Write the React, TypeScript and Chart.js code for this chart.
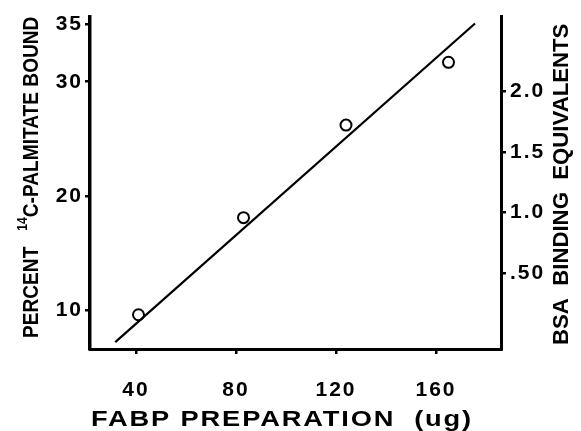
import React, { useEffect, useRef } from "react";
import { Chart, registerables } from "chart.js";

Chart.register(...registerables);

// ---- data ----
const pointX = [41, 83, 124, 165];
const pointY = [9.6, 18.1, 26.2, 31.7];
const fitX = [31.7, 175.6];
const fitY = [7.2, 35.1];
const xTicks = [40, 80, 120, 160];
const yTicks = [10, 20, 30, 35];
const y2Ticks = [0.5, 1.0, 1.5, 2.0];
const y2Labels = [".50", "1.0", "1.5", "2.0"];
const xTitle = "FABP PREPARATION  (ug)";
const yTitlePre = "PERCENT   ";
const yTitleSup = "14";
const yTitlePost = "C-PALMITATE BOUND";
const y2Title = "BSA  BINDING  EQUIVALENTS";

const FONT = "'Liberation Sans', Arial, Helvetica, sans-serif";

const titlePlugin = {
  id: "titles",
  beforeDraw(chart: any) {
    chart.ctx.letterSpacing = "2px";
  },
  afterDraw(chart: any) {
    const ctx = chart.ctx as CanvasRenderingContext2D;
    const area = chart.chartArea;
    ctx.save();
    ctx.fillStyle = "#000";
    ctx.textBaseline = "middle";
    ctx.textAlign = "left";
    const big = `bold 22px ${FONT}`;
    const small = `bold 14px ${FONT}`;

    // x title
    (ctx as any).letterSpacing = "1.5px";
    ctx.font = big;
    const wx = ctx.measureText(xTitle).width;
    ctx.save();
    ctx.translate(area.left + 1, 420);
    ctx.scale(382 / wx, 1);
    ctx.fillText(xTitle, 0, 0);
    ctx.restore();

    // left title (rotated)
    (ctx as any).letterSpacing = "0px";
    ctx.font = big;
    const w1 = ctx.measureText(yTitlePre).width;
    const w3 = ctx.measureText(yTitlePost).width;
    ctx.font = small;
    const w2 = ctx.measureText(yTitleSup).width;
    const s = (area.bottom - 11 - area.top) / (w1 + w2 + w3);
    ctx.save();
    ctx.translate(32, area.bottom - 11);
    ctx.rotate(-Math.PI / 2);
    ctx.scale(s, 1);
    ctx.font = big;
    ctx.fillText(yTitlePre, 0, 0);
    ctx.font = small;
    ctx.fillText(yTitleSup, w1, -9);
    ctx.font = big;
    ctx.fillText(yTitlePost, w1 + w2, 0);
    ctx.restore();

    // right title (rotated, reads bottom to top)
    ctx.font = big;
    const wr = ctx.measureText(y2Title).width;
    ctx.save();
    ctx.translate(562, area.bottom - 4);
    ctx.rotate(-Math.PI / 2);
    ctx.scale((area.bottom - 4 - (area.top + 7)) / wr, 1);
    ctx.fillText(y2Title, 0, 0);
    ctx.restore();

    ctx.restore();
  },
};

export default function App() {
  const ref = useRef<HTMLCanvasElement | null>(null);

  useEffect(() => {
    if (!ref.current) return;
    const axisGrid = {
      display: true,
      drawOnChartArea: false,
      drawTicks: true,
      tickLength: 5,
      color: "#000",
      lineWidth: 2.5,
    };
    const axisBorder = { display: true, color: "#000", width: 3 };
    const tickFont = { family: FONT, size: 21, weight: "bold" };

    const chart = new Chart(ref.current, {
      type: "scatter",
      data: {
        datasets: [
          {
            type: "line",
            data: fitX.map((x, i) => ({ x, y: fitY[i] })),
            borderColor: "#000",
            borderWidth: 2.2,
            pointRadius: 0,
            fill: false,
            yAxisID: "y",
          } as any,
          {
            type: "scatter",
            data: pointX.map((x, i) => ({ x, y: pointY[i] })),
            pointRadius: 5.5,
            pointBorderWidth: 2,
            pointBackgroundColor: "#fff",
            pointBorderColor: "#000",
            yAxisID: "y",
          },
        ],
      },
      options: {
        responsive: false,
        animation: false,
        layout: { padding: { top: 15, left: 0, right: 0, bottom: 0 } },
        plugins: { legend: { display: false }, tooltip: { enabled: false } },
        scales: {
          x: {
            type: "linear",
            position: "bottom",
            min: 21.6,
            max: 186,
            afterBuildTicks: (s: any) => {
              s.ticks = xTicks.map((v) => ({ value: v }));
            },
            afterFit: (s: any) => {
              s.height = 82;
            },
            grid: axisGrid,
            border: axisBorder,
            ticks: { font: tickFont, color: "#000", padding: 24, maxRotation: 0 },
          },
          y: {
            type: "linear",
            position: "left",
            min: 6.6,
            max: 35.7,
            afterBuildTicks: (s: any) => {
              s.ticks = yTicks.map((v) => ({ value: v }));
            },
            afterFit: (s: any) => {
              s.width = 90;
            },
            grid: axisGrid,
            border: { ...axisBorder, width: 3.5 },
            ticks: { font: tickFont, color: "#000", padding: 2 },
          },
          y2: {
            type: "linear",
            position: "right",
            min: -0.12,
            max: 2.61,
            afterBuildTicks: (s: any) => {
              s.ticks = y2Ticks.map((v) => ({ value: v }));
            },
            afterFit: (s: any) => {
              s.width = 80;
            },
            grid: axisGrid,
            border: axisBorder,
            ticks: {
              font: tickFont,
              color: "#000",
              padding: 4,
              callback: (v: any) => {
                const i = y2Ticks.indexOf(Number(v));
                return i >= 0 ? y2Labels[i] : "";
              },
            },
          },
        },
      } as any,
      plugins: [titlePlugin],
    });
    return () => chart.destroy();
  }, []);

  return (
    <div style={{ position: "fixed", left: 0, top: 0, width: 581, height: 431, background: "#fff" }}>
      <canvas ref={ref} width={581} height={431} style={{ display: "block" }} />
    </div>
  );
}
